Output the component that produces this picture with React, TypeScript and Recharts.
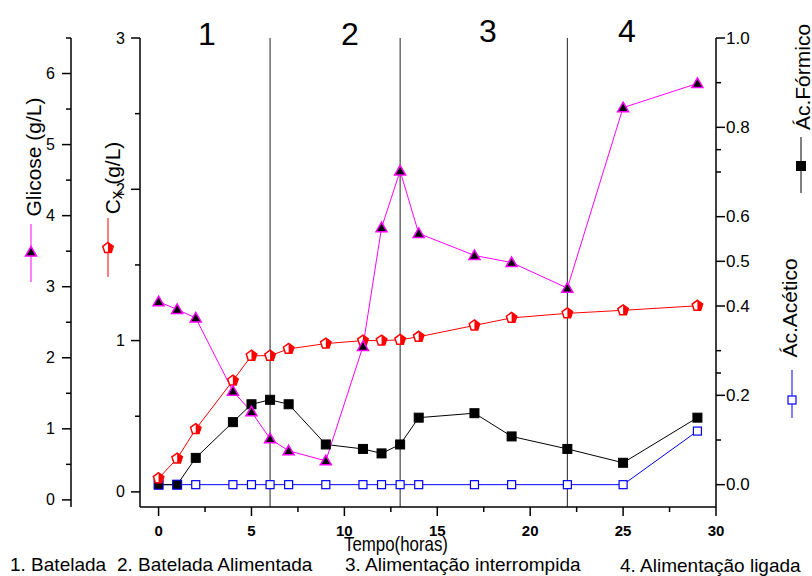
import React from "react";
import { LineChart, Line, XAxis, YAxis, ReferenceLine } from "recharts";

// sampling times (h) and measured values
const TIME = [0, 1, 2, 4, 5, 6, 7, 9, 11, 12, 13, 14, 17, 19, 22, 25, 29];
const GLICOSE = [2.79, 2.68, 2.56, 1.53, 1.24, 0.86, 0.69, 0.55, 2.16, 3.83, 4.63, 3.75, 3.44, 3.34, 2.98, 5.52, 5.86];
const CX = [0.09, 0.22, 0.415, 0.735, 0.9, 0.9, 0.945, 0.98, 1.0, 1.0, 1.005, 1.025, 1.1, 1.15, 1.18, 1.2, 1.23];
const FORMICO = [0, 0, 0.06, 0.14, 0.18, 0.19, 0.18, 0.09, 0.08, 0.07, 0.09, 0.15, 0.16, 0.108, 0.08, 0.049, 0.15];
const ACETICO = [0, 0, 0, 0, 0, 0, 0, 0, 0, 0, 0, 0, 0, 0, 0, 0, 0.12];

const PHASE_LINES = [6, 13, 22];
const PHASE_NUMBERS = ["1", "2", "3", "4"];
const PHASE_NAMES = ["1. Batelada", "2. Batelada Alimentada", "3. Alimentação interrompida", "4. Alimentação ligada"];

const X_MAJOR = [0, 5, 10, 15, 20, 25, 30];
const X_MINOR = [2.5, 7.5, 12.5, 17.5, 22.5, 27.5];
const GL_MAJOR = [0, 1, 2, 3, 4, 5, 6];
const GL_MINOR = [0.5, 1.5, 2.5, 3.5, 4.5, 5.5, 6.5];
const CX_MAJOR = [0, 1, 2, 3];
const CX_MINOR = [0.5, 1.5, 2.5];
const AC_MAJOR = [0, 0.2, 0.4, 0.5, 0.6, 0.8, 1.0];
const AC_MINOR = [0.1, 0.25, 0.3, 0.7, 0.75, 0.9];

const data = TIME.map((t, i) => ({
    t,
    glicose: GLICOSE[i],
    cx: CX[i],
    formico: FORMICO[i],
    acetico: ACETICO[i]
}));

const FONT = "'Liberation Sans', Arial, sans-serif";
const MAGENTA = "#ff00ff";
const RED = "#ff0000";
const BLUE = "#0000ff";

const Triangle = ({ cx, cy }: any) => (
    <polygon
        points={`${cx},${cy - 5.5} ${cx + 5.5},${cy + 4} ${cx - 5.5},${cy + 4}`}
        fill="#000"
        stroke={MAGENTA}
        strokeWidth={1.5}
    />
);

const Pentagon = ({ cx, cy }: any) => {
    const r = 5.5;
    const pts = [-90, -18, 54, 126, 198].map((a) => {
        const rad = (a * Math.PI) / 180;
        return [cx + r * Math.cos(rad), cy + r * Math.sin(rad)];
    });
    const half = [pts[0], pts[1], pts[2], [cx, pts[2][1]]];
    return (
        <g>
            <polygon points={pts.map((p) => p.join(",")).join(" ")} fill="#fff" stroke={RED} strokeWidth={1.5} />
            <polygon points={half.map((p) => p.join(",")).join(" ")} fill={RED} />
        </g>
    );
};

const BlackSquare = ({ cx, cy, edge = "#000" }: any) => (
    <rect x={cx - 4.5} y={cy - 4.5} width={9} height={9} fill="#000" stroke={edge} strokeWidth={1} />
);

const OpenSquare = ({ cx, cy }: any) => (
    <rect x={cx - 4} y={cy - 4} width={8} height={8} fill="#fff" stroke={BLUE} strokeWidth={1.2} />
);

const LeftTick = ({ x, y, payload, majors, gap }: any) => {
    const major = majors.includes(payload.value);
    return (
        <g>
            <line x1={x - (major ? 9 : 5)} x2={x} y1={y} y2={y} stroke="#000" strokeWidth={1.5} />
            {major && (
                <text x={x - gap} y={y} textAnchor="end" dominantBaseline="central"
                    fontSize={16} fontFamily={FONT} fill="#000">
                    {payload.value}
                </text>
            )}
        </g>
    );
};

const RightTick = ({ x, y, payload }: any) => {
    const major = AC_MAJOR.includes(payload.value);
    return (
        <g>
            <line x1={x} x2={x + (major ? 9 : 5)} y1={y} y2={y} stroke="#000" strokeWidth={1.5} />
            {major && (
                <text x={x + 10} y={y} textAnchor="start" dominantBaseline="central"
                    fontSize={17} fontFamily={FONT} fill="#000">
                    {payload.value.toFixed(1)}
                </text>
            )}
        </g>
    );
};

const BottomTick = ({ x, y, payload }: any) => {
    const major = X_MAJOR.includes(payload.value);
    return (
        <g>
            <line x1={x} x2={x} y1={y} y2={y + (major ? 9 : 5)} stroke="#000" strokeWidth={1.5} />
            {major && (
                <text x={x} y={y + 29} textAnchor="middle" fontSize={15} fontWeight="bold"
                    fontFamily={FONT} fill="#000">
                    {payload.value}
                </text>
            )}
        </g>
    );
};

const VLabel = ({ x, y, size, children }: any) => (
    <text transform={`translate(${x},${y}) rotate(-90)`} textAnchor="middle" dominantBaseline="central"
        fontSize={size} fontFamily={FONT} fill="#000">
        {children}
    </text>
);

export default function App() {
    const xs = [207, 350, 488, 627];
    const ys = [45, 45, 42, 42];
    const nameX = [10, 117, 345, 620];
    const nameY = [571, 571, 571, 572];

    return (
        <div style={{ position: "absolute", left: 0, top: 0, width: 812, height: 576, background: "#fff" }}>
            <LineChart width={812} height={576} data={data}
                margin={{ top: 38, right: 0, bottom: 39, left: 0 }}>
                <XAxis dataKey="t" type="number" domain={[-1, 30]} ticks={[...X_MAJOR, ...X_MINOR].sort((a, b) => a - b)}
                    interval={0} height={30} tickSize={0} tickMargin={0} tickLine={false}
                    axisLine={{ stroke: "#000", strokeWidth: 1.5 }} tick={(p: any) => <BottomTick {...p} />} />
                <YAxis yAxisId="cx" orientation="left" width={69} domain={[-0.1, 3]} allowDataOverflow
                    ticks={[...CX_MAJOR, ...CX_MINOR].sort((a, b) => a - b)} interval={0}
                    tickSize={0} tickMargin={0} tickLine={false} axisLine={{ stroke: "#000", strokeWidth: 1.5 }}
                    tick={(p: any) => <LeftTick {...p} majors={CX_MAJOR} gap={15} />} />
                <YAxis yAxisId="gl" orientation="left" width={71} domain={[-0.1, 6.5]} allowDataOverflow
                    ticks={[...GL_MAJOR, ...GL_MINOR].sort((a, b) => a - b)} interval={0}
                    tickSize={0} tickMargin={0} tickLine={false} axisLine={{ stroke: "#000", strokeWidth: 1.5 }}
                    tick={(p: any) => <LeftTick {...p} majors={GL_MAJOR} gap={16} />} />
                <YAxis yAxisId="ac" orientation="right" width={96} domain={[-0.05, 1.0]} allowDataOverflow
                    ticks={[...AC_MAJOR, ...AC_MINOR].sort((a, b) => a - b)} interval={0}
                    tickSize={0} tickMargin={0} tickLine={false} axisLine={{ stroke: "#000", strokeWidth: 1.5 }}
                    tick={(p: any) => <RightTick {...p} />} />

                {PHASE_LINES.map((t) => (
                    <ReferenceLine key={t} x={t} yAxisId="cx" stroke="#222" strokeWidth={1} />
                ))}

                <Line yAxisId="ac" dataKey="acetico" stroke={BLUE} strokeWidth={1} isAnimationActive={false}
                    dot={(p: any) => <OpenSquare key={`a-${p.index}`} cx={p.cx} cy={p.cy} />} />
                <Line yAxisId="ac" dataKey="formico" stroke="#000" strokeWidth={1} isAnimationActive={false}
                    dot={(p: any) => (
                        <BlackSquare key={`f-${p.index}`} cx={p.cx} cy={p.cy}
                            edge={p.payload.formico === p.payload.acetico ? BLUE : "#000"} />
                    )} />
                <Line yAxisId="cx" dataKey="cx" stroke={RED} strokeWidth={1} isAnimationActive={false}
                    dot={(p: any) => <Pentagon key={`c-${p.index}`} cx={p.cx} cy={p.cy} />} />
                <Line yAxisId="gl" dataKey="glicose" stroke={MAGENTA} strokeWidth={1} isAnimationActive={false}
                    dot={(p: any) => <Triangle key={`g-${p.index}`} cx={p.cx} cy={p.cy} />} />
            </LineChart>

            <svg width={812} height={576} style={{ position: "absolute", left: 0, top: 0, pointerEvents: "none" }}>
                {PHASE_NUMBERS.map((n, i) => (
                    <text key={n} x={xs[i]} y={ys[i]} textAnchor="middle" fontSize={32} fontFamily={FONT} fill="#000">
                        {n}
                    </text>
                ))}
                {PHASE_NAMES.map((n, i) => (
                    <text key={n} x={nameX[i]} y={nameY[i]} fontSize={19} fontFamily={FONT} fill="#000">
                        {n}
                    </text>
                ))}
                <text x={396} y={551} textAnchor="middle" fontSize={21} fontFamily={FONT} fill="#000"
                    textLength={104} lengthAdjust="spacingAndGlyphs">
                    Tempo(horas)
                </text>

                {/* axis titles with legend keys */}
                <VLabel x={33} y={157} size={21}>Glicose (g/L)</VLabel>
                <line x1={31} x2={31} y1={224} y2={282} stroke={MAGENTA} strokeWidth={1} />
                <Triangle cx={31} cy={252} />

                <VLabel x={112} y={178} size={21}>
                    C<tspan dy={4} fontSize={17}>x</tspan><tspan dy={-4}> (g/L)</tspan>
                </VLabel>
                <line x1={108} x2={108} y1={218} y2={277} stroke={RED} strokeWidth={1} />
                <Pentagon cx={108} cy={248} />

                <VLabel x={802} y={77} size={21}>Ác.Fórmico</VLabel>
                <line x1={801} x2={801} y1={137} y2={193} stroke="#000" strokeWidth={1} />
                <BlackSquare cx={801} cy={166} />

                <VLabel x={789} y={308} size={21}>Ác.Acético</VLabel>
                <line x1={792} x2={792} y1={370} y2={418} stroke={BLUE} strokeWidth={1} />
                <OpenSquare cx={792} cy={400} />
            </svg>
        </div>
    );
}
